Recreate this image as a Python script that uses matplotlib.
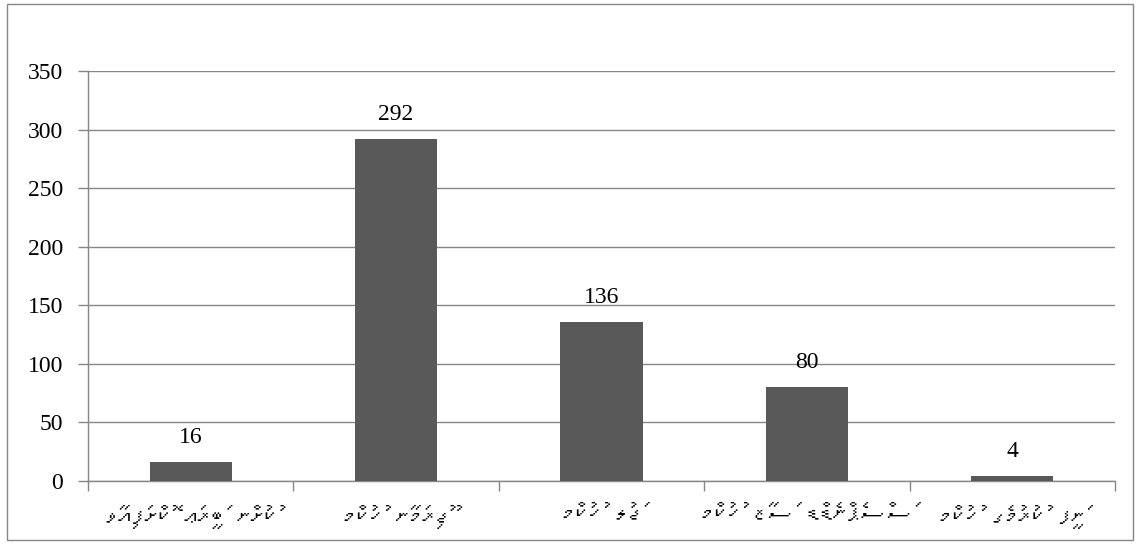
import matplotlib
matplotlib.use('Agg')
import matplotlib.pyplot as plt
from matplotlib import font_manager
from matplotlib.patches import Rectangle
from fontTools.ttLib import TTFont

# data
categories = ["ކުށުން ބަރީޢަ ކޮށްފައިވާ",
              "ޖޫރިމަނާ ހުކުމް",
              "ޖަލު ހުކުމް",
              "ސަސްޕެންޑެޑް ސަޒާ ހުކުމް",
              "ނަފީ ކުރުމުގެ ހުކުމް"]
values = [16, 292, 136, 80, 4]
yticks = [0, 50, 100, 150, 200, 250, 300, 350]

W, H = 1140, 546
grey = '#868686'
bar_col = '#595959'

# look for any installed family that has Thaana letters
label_fams = ['DejaVu Sans']
for f in font_manager.fontManager.ttflist:
    try:
        cmap = TTFont(f.fname, fontNumber=0, lazy=True).getBestCmap()
    except Exception:
        continue
    if cmap and 0x0780 in cmap:
        label_fams = [f.name, 'DejaVu Sans']
        break


def visual_rtl(s):
    # matplotlib lays text out left to right: put letter+fili clusters in RTL order
    clusters = []
    for ch in s:
        if 0x07A6 <= ord(ch) <= 0x07B0 and clusters:
            clusters[-1] += ch
        else:
            clusters.append(ch)
    return ''.join(reversed(clusters))


plt.rcParams['font.family'] = ['Liberation Serif', 'DejaVu Sans']

fig = plt.figure(figsize=(W / 100, H / 100), dpi=100)
ax = fig.add_axes([88 / W, (H - 481) / H, (1115 - 88) / W, (481 - 71) / H])

x = [i + 0.5 for i in range(len(values))]
ax.bar(x, values, width=0.4, color=bar_col, zorder=3)

for xi, v in zip(x, values):
    ax.annotate(str(v), (xi, v), xytext=(0, 10), textcoords='offset points',
                ha='center', va='bottom', fontsize=17)

ax.set_xlim(0, len(values))
ax.set_ylim(0, 350)
ax.set_yticks(yticks)
ax.set_yticklabels([str(t) for t in yticks], fontsize=17)
ax.yaxis.grid(True, color=grey, lw=1, zorder=0)
ax.tick_params(axis='y', direction='out', length=7, color=grey, width=1, pad=11)

ax.set_xticks(x)
ax.set_xticklabels([visual_rtl(c) for c in categories], fontsize=19, family=label_fams)
ax.tick_params(axis='x', which='major', length=0, pad=17)
ax.set_xticks(range(len(values) + 1), minor=True)
ax.tick_params(axis='x', which='minor', direction='out', length=7, color=grey, width=1)

for s in ['top', 'right']:
    ax.spines[s].set_visible(False)
for s in ['left', 'bottom']:
    ax.spines[s].set_color(grey)
    ax.spines[s].set_linewidth(1)

# outer chart border
fig.patches.append(Rectangle((7 / W, 6 / H), 1126 / W, 536 / H,
                             transform=fig.transFigure, fill=False,
                             edgecolor=grey, lw=1))

fig.savefig('out.png', dpi=100)
